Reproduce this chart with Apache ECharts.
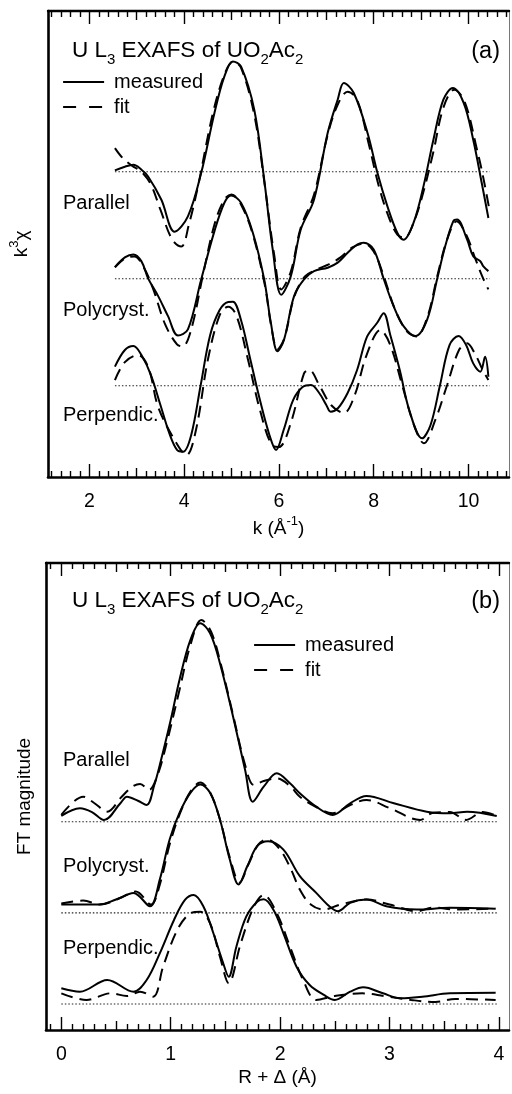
<!DOCTYPE html>
<html><head><meta charset="utf-8">
<script src="https://cdn.jsdelivr.net/npm/echarts@6/dist/echarts.min.js"></script>
<style>html,body{margin:0;padding:0;background:#fff}#c{width:512px;height:1094px}</style>
</head><body><div id="c"></div>
<script>
// ---------- Panel (a): k^3 chi vs k ----------
const kParMeas = [2.54,2.75,2.93,3.1,3.24,3.52,3.8,4.08,4.36,4.64,4.85,5.03,5.2,5.48,5.69,5.87,6.05,6.25,6.46,6.74,7.03,7.24,7.37,7.58,7.87,8.08,8.29,8.5,8.63,8.84,9.05,9.26,9.47,9.67,9.9,10.1,10.28,10.42];
const parMeas  = [0.12,0.47,0.65,0.19,-0.44,-2.62,-5.61,-4.18,-0.12,5.49,8.91,10.31,9.84,5.79,-0.75,-7.29,-11.5,-9.78,-5.42,-2.62,3.64,6.73,8.29,7.36,3.62,-0.12,-3.24,-5.73,-6.36,-4.79,-1.37,2.99,6.73,7.82,6.42,2.99,-1.06,-4.33];
const kParFit  = [2.54,2.7,2.9,3.1,3.3,3.5,3.75,3.94,4.1,4.3,4.6,4.85,5.03,5.2,5.48,5.7,5.9,6.05,6.25,6.46,6.74,7.03,7.24,7.45,7.65,7.9,8.1,8.3,8.5,8.65,8.85,9.05,9.26,9.47,9.7,9.92,10.18,10.3,10.45];
const parFit   = [2.21,1.3,0.56,0,-1.2,-3.55,-6.36,-7.0,-4.95,-1.2,5.33,9.07,10.28,9.72,5.33,-1.2,-7.76,-11.0,-9.35,-5.23,-2.15,3.46,6.26,7.48,6.73,2.52,-1.21,-4.02,-5.89,-6.17,-4.67,-1.87,1.87,5.98,7.66,6.54,2.06,-0.28,-3.74];

const kPolyMeas = [2.54,2.75,2.93,3.1,3.24,3.45,3.66,3.87,4.08,4.36,4.64,4.85,4.99,5.2,5.45,5.69,5.83,5.97,6.11,6.32,6.53,6.74,7.03,7.24,7.45,7.66,7.79,8.0,8.21,8.42,8.63,8.88,9.13,9.34,9.51,9.68,9.76,9.97,10.1,10.25,10.31,10.42];
const polyMeas  = [1.08,1.99,2.27,1.62,0.03,-1.6,-3.5,-5.3,-4.74,-0.07,4.45,7.1,7.78,7.1,4.3,-0.07,-4.1,-6.77,-5.67,-1.63,-0.07,0.71,1.03,1.5,2.43,3.21,3.36,2.74,0,-2.56,-4.43,-5.36,-3.8,0,3.05,5.38,5.54,3.67,2.11,1.64,1.18,0.71];
const kPolyFit  = [2.54,2.75,2.95,3.15,3.35,3.6,3.85,3.97,4.15,4.4,4.64,4.85,5.0,5.2,5.45,5.7,5.85,5.97,6.12,6.32,6.55,6.8,7.05,7.3,7.55,7.8,8.0,8.2,8.45,8.7,8.9,9.13,9.35,9.55,9.75,9.95,10.15,10.3,10.42];
const polyFit   = [1.06,1.9,2.08,1.06,-1.0,-4.27,-6.14,-6.33,-4.74,0.4,5.07,7.41,7.88,6.94,4.14,-0.53,-4.74,-6.6,-5.49,-1.75,0.21,0.87,1.34,1.99,2.93,3.3,2.55,0.4,-2.87,-4.92,-5.39,-3.62,0.4,3.67,5.36,4.14,1.8,0.12,-1.0];

const kPerpMeas = [2.54,2.75,2.93,3.1,3.3,3.5,3.7,3.85,3.98,4.15,4.35,4.55,4.75,4.93,5.03,5.2,5.4,5.6,5.8,5.94,6.1,6.3,6.5,6.68,6.85,7.0,7.09,7.25,7.45,7.65,7.86,8.07,8.21,8.35,8.55,8.75,9.02,9.2,9.4,9.6,9.79,9.95,10.1,10.25,10.35,10.42];
const perpMeas  = [1.78,3.34,3.71,2.87,1.0,-1.8,-4.6,-6.0,-6.17,-4.6,0.07,4.74,7.07,7.82,7.85,6.14,2.4,-1.34,-4.6,-6.0,-4.14,-1.34,-0.12,0.07,-0.68,-1.8,-2.43,-2.08,-0.68,1.47,4.58,5.86,6.77,4.74,1.47,-2.27,-4.92,-3.67,0.07,3.8,4.64,3.8,2.09,1.31,2.71,0.84];
const kPerpFit  = [2.54,2.75,3.03,3.25,3.45,3.8,4.05,4.25,4.5,4.75,4.93,5.1,5.35,5.6,5.85,6.0,6.25,6.53,6.64,6.85,7.1,7.37,7.6,7.85,8.14,8.35,8.6,8.85,9.06,9.3,9.55,9.8,9.97,10.15,10.3,10.42];
const perpFit   = [0.53,2.21,2.87,1.65,-1.96,-5.07,-6.48,-4.14,2.4,6.6,7.38,6.6,2.4,-2.27,-5.55,-5.73,-3.5,1.16,1.47,0.07,-1.8,-2.55,-0.87,2.87,5.21,3.8,0.07,-3.67,-5.38,-3.2,0.07,3.34,3.96,2.87,1.47,0.53];

const kBaseline = [2.54, 10.45];
const offsetsA = [30, 20, 10];        // Parallel, Polycryst., Perpendic.
const kMajorTicks = [2,4,6,8,10];
const kMidTicks = [3,5,7,9];

// ---------- Panel (b): FT magnitude vs R + Delta ----------
const rParMeas = [0.0,0.17,0.28,0.39,0.54,0.6,0.7,0.78,0.85,0.9,1.0,1.08,1.18,1.27,1.36,1.45,1.57,1.68,1.75,1.85,1.97,2.09,2.18,2.33,2.48,2.64,2.79,3.04,3.34,3.55,3.71,3.98];
const parFT    = [0.63,1.47,1.06,0.19,2.02,2.74,2.3,1.83,4.03,6.22,11.16,15.55,19.94,21.77,20.67,17.38,11.52,5.67,2.19,3.84,5.31,4.21,3.12,1.65,0.74,2.02,2.82,2.02,1.1,0.92,1.1,0.63];
const rParFit  = [0.0,0.2,0.3,0.42,0.55,0.65,0.72,0.8,0.88,0.97,1.08,1.18,1.28,1.37,1.46,1.57,1.68,1.76,1.85,1.97,2.09,2.18,2.33,2.48,2.64,2.79,3.0,3.28,3.39,3.55,3.7,3.85,3.98];
const parFTFit = [0.74,2.74,2.05,1.1,2.71,3.84,4.14,3.48,5.12,8.96,14.45,19.39,22.13,20.81,17.19,11.7,6.22,4.03,4.47,4.76,3.92,2.74,1.61,0.92,1.83,2.38,1.5,0.19,0.95,1.06,0.19,1.06,0.63];

const rPolyMeas = [0.0,0.35,0.5,0.66,0.81,0.9,0.99,1.08,1.18,1.27,1.36,1.45,1.54,1.62,1.7,1.79,1.89,2.03,2.18,2.33,2.45,2.53,2.64,2.79,2.97,3.25,3.55,3.97];
const polyFT    = [0.91,0.91,1.46,2.19,0.72,3.65,8.04,10.97,13.17,14.08,13.17,10.24,5.85,3.1,5.11,7.31,7.86,6.94,4.02,2.19,0.72,0.18,1.1,1.46,0.72,0.36,0.55,0.44];
const rPolyFit  = [0.0,0.2,0.35,0.55,0.68,0.82,0.9,0.99,1.08,1.18,1.27,1.36,1.45,1.54,1.63,1.71,1.8,1.88,2.0,2.1,2.18,2.28,2.4,2.55,2.79,3.0,3.25,3.4,3.6,3.97];
const polyFTFit = [1.02,1.35,0.91,1.68,2.34,0.91,3.1,7.49,10.78,13.3,14.3,13.2,10.24,6.07,3.32,5.3,7.49,8.04,6.94,4.75,2.56,0.91,0.36,0.91,1.46,0.91,0.18,0.58,0.36,0.47];

const rPerpMeas = [0.0,0.17,0.42,0.66,0.78,0.9,1.03,1.13,1.21,1.3,1.39,1.47,1.53,1.6,1.69,1.79,1.85,1.94,2.03,2.15,2.27,2.4,2.5,2.64,2.76,2.94,3.1,3.3,3.55,3.97];
const perpFT    = [1.72,1.35,2.63,1.35,2.63,5.56,9.22,11.41,11.96,10.67,7.76,4.83,3.0,6.29,9.58,11.22,11.49,10.31,7.76,4.09,2.08,0.99,0.44,1.35,1.83,1.17,0.63,0.8,1.17,1.24];
const rPerpFit  = [0.0,0.23,0.45,0.6,0.72,0.84,0.93,1.06,1.18,1.27,1.36,1.45,1.53,1.64,1.76,1.85,1.97,2.09,2.21,2.33,2.5,2.75,2.95,3.2,3.42,3.6,3.97];
const perpFTFit = [1.17,0.44,1.17,0.88,1.35,0.8,4.09,8.12,9.95,10.13,8.85,5.19,2.27,6.66,10.67,11.96,9.95,6.29,2.63,0.44,0.88,1.17,0.88,0.44,0.22,0.55,0.44];

const rBaseline = [0.0, 3.98];
const offsetsB = [30, 20, 10];
const rMajorTicks = [0,1,2,3,4];
const rMidTicks = [0.5,1.5,2.5,3.5];

const sampleLabels = ['Parallel', 'Polycryst.', 'Perpendic.'];

// ---------- build ----------
const FONT = '"Liberation Sans", Arial, Helvetica, sans-serif';
function range(a, b, step) { const out = []; for (let v = a; v <= b + 1e-9; v += step) out.push(+v.toFixed(3)); return out; }
const kMinorTicks = range(1.2, 10.8, 0.2).filter(v => !kMajorTicks.some(t => Math.abs(t - v) < 1e-6) && !kMidTicks.some(t => Math.abs(t - v) < 1e-6));
const rMinorTicks = range(-0.1, 4.0, 0.1).filter(v => !rMajorTicks.some(t => Math.abs(t - v) < 1e-6) && !rMidTicks.some(t => Math.abs(t - v) < 1e-6));

const pair = (xs, ys, off) => xs.map((x, i) => [x, ys[i] + off]);

const A = { min: 1.128, max: 10.855, ymin: 1.47, ymax: 45.02 };
const B = { min: -0.14, max: 4.092, ymin: 7.147, ymax: 58.38 };

const subRich = {
  s: { fontSize: 13, fontFamily: FONT, lineHeight: 28, verticalAlign: 'bottom', color: '#000' },
  u: { fontSize: 13, fontFamily: FONT, lineHeight: 28, verticalAlign: 'top', color: '#000' },
  n: { fontSize: 19, fontFamily: FONT, lineHeight: 28, color: '#000' }
};
const titleRich = {
  s: { fontSize: 15, fontFamily: FONT, lineHeight: 32, verticalAlign: 'bottom', color: '#000' },
  n: { fontSize: 22.5, fontFamily: FONT, lineHeight: 32, color: '#000' }
};

function xAxes(grid, ext, major, mid, minor, name, labelFmt) {
  const base = { type: 'value', gridIndex: grid, min: ext.min, max: ext.max, offset: 0, splitLine: { show: false } };
  const tick = (vals, len) => ({ show: true, inside: true, length: len, customValues: vals, lineStyle: { color: '#000', width: 1.4 } });
  const noLabel = { show: false };
  return [
    Object.assign({}, base, {
      position: 'bottom',
      axisLine: { show: true, onZero: false, lineStyle: { color: '#000', width: 2.6 } },
      axisTick: tick(major, 13),
      axisLabel: { show: true, customValues: major, margin: 15, fontSize: 19.5, fontFamily: FONT, color: '#000', formatter: labelFmt },
      name: name, nameLocation: 'middle', nameGap: 38,
      nameTextStyle: { fontSize: 19, fontFamily: FONT, color: '#000', rich: subRich }
    }),
    Object.assign({}, base, { position: 'bottom', axisLine: { show: false, onZero: false }, axisTick: tick(mid, 9), axisLabel: noLabel }),
    Object.assign({}, base, { position: 'bottom', axisLine: { show: false, onZero: false }, axisTick: tick(minor, 6), axisLabel: noLabel }),
    Object.assign({}, base, { position: 'top', axisLine: { show: true, onZero: false, lineStyle: { color: '#000', width: 2.4 } }, axisTick: tick(major, 13), axisLabel: noLabel }),
    Object.assign({}, base, { position: 'top', axisLine: { show: false, onZero: false }, axisTick: tick(mid, 9), axisLabel: noLabel }),
    Object.assign({}, base, { position: 'top', axisLine: { show: false, onZero: false }, axisTick: tick(minor, 6), axisLabel: noLabel })
  ];
}
function yAxes(grid, ext, name) {
  const base = { type: 'value', gridIndex: grid, min: ext.ymin, max: ext.ymax, splitLine: { show: false }, axisTick: { show: false }, axisLabel: { show: false } };
  return [
    Object.assign({}, base, {
      position: 'left', axisLine: { show: true, onZero: false, lineStyle: { color: '#000', width: 2.6 } },
      name: name, nameLocation: 'middle', nameRotate: 90, nameGap: 12,
      nameTextStyle: { fontSize: 19, fontFamily: FONT, color: '#000', rich: subRich }
    }),
    Object.assign({}, base, { position: 'right', axisLine: { show: true, onZero: false, lineStyle: { color: '#777', width: 1 } } })
  ];
}

function curve(name, data, xi, yi, dashed) {
  return {
    type: 'line', name: name, xAxisIndex: xi, yAxisIndex: yi, data: data,
    smooth: 0.35, symbol: 'none', showSymbol: false, silent: true, z: dashed ? 3 : 4,
    itemStyle: { color: '#000' },
    lineStyle: { color: '#000', width: 2, type: dashed ? [12, 7] : 'solid' }
  };
}
function baseline(xs, off, xi, yi) {
  return {
    type: 'line', name: 'baseline', xAxisIndex: xi, yAxisIndex: yi, data: xs.map(x => [x, off]),
    symbol: 'none', silent: true, z: 2,
    lineStyle: { color: '#222', width: 1.1, type: [1.5, 2] }
  };
}

const series = [];
// panel a
offsetsA.forEach(o => series.push(baseline(kBaseline, o, 0, 0)));
series.push(curve('fit', pair(kParFit, parFit, offsetsA[0]), 0, 0, true));
series.push(curve('fit', pair(kPolyFit, polyFit, offsetsA[1]), 0, 0, true));
series.push(curve('fit', pair(kPerpFit, perpFit, offsetsA[2]), 0, 0, true));
series.push(curve('measured', pair(kParMeas, parMeas, offsetsA[0]), 0, 0, false));
series.push(curve('measured', pair(kPolyMeas, polyMeas, offsetsA[1]), 0, 0, false));
series.push(curve('measured', pair(kPerpMeas, perpMeas, offsetsA[2]), 0, 0, false));
// panel b
offsetsB.forEach(o => series.push(baseline(rBaseline, o, 6, 2)));
series.push(curve('fit', pair(rParFit, parFTFit, offsetsB[0]), 6, 2, true));
series.push(curve('fit', pair(rPolyFit, polyFTFit, offsetsB[1]), 6, 2, true));
series.push(curve('fit', pair(rPerpFit, perpFTFit, offsetsB[2]), 6, 2, true));
series.push(curve('measured', pair(rParMeas, parFT, offsetsB[0]), 6, 2, false));
series.push(curve('measured', pair(rPolyMeas, polyFT, offsetsB[1]), 6, 2, false));
series.push(curve('measured', pair(rPerpMeas, perpFT, offsetsB[2]), 6, 2, false));

function txt(x, y, text, align, size, rich) {
  return {
    type: 'text', x: x, y: y, silent: true,
    style: { text: text, fontSize: size || 20, fontFamily: FONT, fill: '#000', align: align || 'left', textAlign: align || 'left', verticalAlign: 'middle', textVerticalAlign: 'middle', rich: rich }
  };
}
const titleText = '{n|U L}{s|3}{n| EXAFS of UO}{s|2}{n|Ac}{s|2}';

const legendBase = {
  data: [
    { name: 'measured', itemStyle: { opacity: 0, color: 'rgba(0,0,0,0)', borderWidth: 0 }, lineStyle: { type: 'solid', width: 2.2, color: '#000' } },
    { name: 'fit', itemStyle: { opacity: 0, color: 'rgba(0,0,0,0)', borderWidth: 0 }, lineStyle: { type: [13, 13], width: 2.2, color: '#000' } }
  ],
  orient: 'vertical', itemWidth: 41, itemHeight: 14, itemGap: 5, padding: 0,
  selectedMode: false,
  textStyle: { fontSize: 20, fontFamily: FONT, color: '#000', padding: [0, 0, 0, 5] }
};

const option = {
  animation: false,
  backgroundColor: '#fff',
  grid: [
    { left: 46, top: 11, width: 463, height: 466 },
    { left: 46, top: 563, width: 463, height: 467 }
  ],
  xAxis: [].concat(
    xAxes(0, A, kMajorTicks, kMidTicks, kMinorTicks, '{n|k (Å}{u|-1}{n|)}', v => String(v)),
    xAxes(1, B, rMajorTicks, rMidTicks, rMinorTicks, 'R + Δ (Å)', v => String(v))
  ),
  yAxis: [].concat(yAxes(0, A, '{n|k}{u|3}{n|χ}'), yAxes(1, B, 'FT magnitude')),
  legend: [
    Object.assign({}, legendBase, { left: 62, top: 72 }),
    Object.assign({}, legendBase, { left: 253, top: 635 })
  ],
  graphic: [
    txt(72, 51, titleText, 'left', 22.5, titleRich),
    txt(500, 52, '(a)', 'right', 23.5),
    txt(63, 203, sampleLabels[0]),
    txt(63, 310, sampleLabels[1]),
    txt(63, 415, sampleLabels[2]),
    txt(72, 601, titleText, 'left', 22.5, titleRich),
    txt(500, 602, '(b)', 'right', 23.5),
    txt(63, 760, sampleLabels[0]),
    txt(63, 866, sampleLabels[1]),
    txt(63, 948, sampleLabels[2])
  ],
  series: series
};

const chart = echarts.init(document.getElementById('c'), null, { renderer: 'canvas' });
chart.setOption(option);
</script></body></html>
